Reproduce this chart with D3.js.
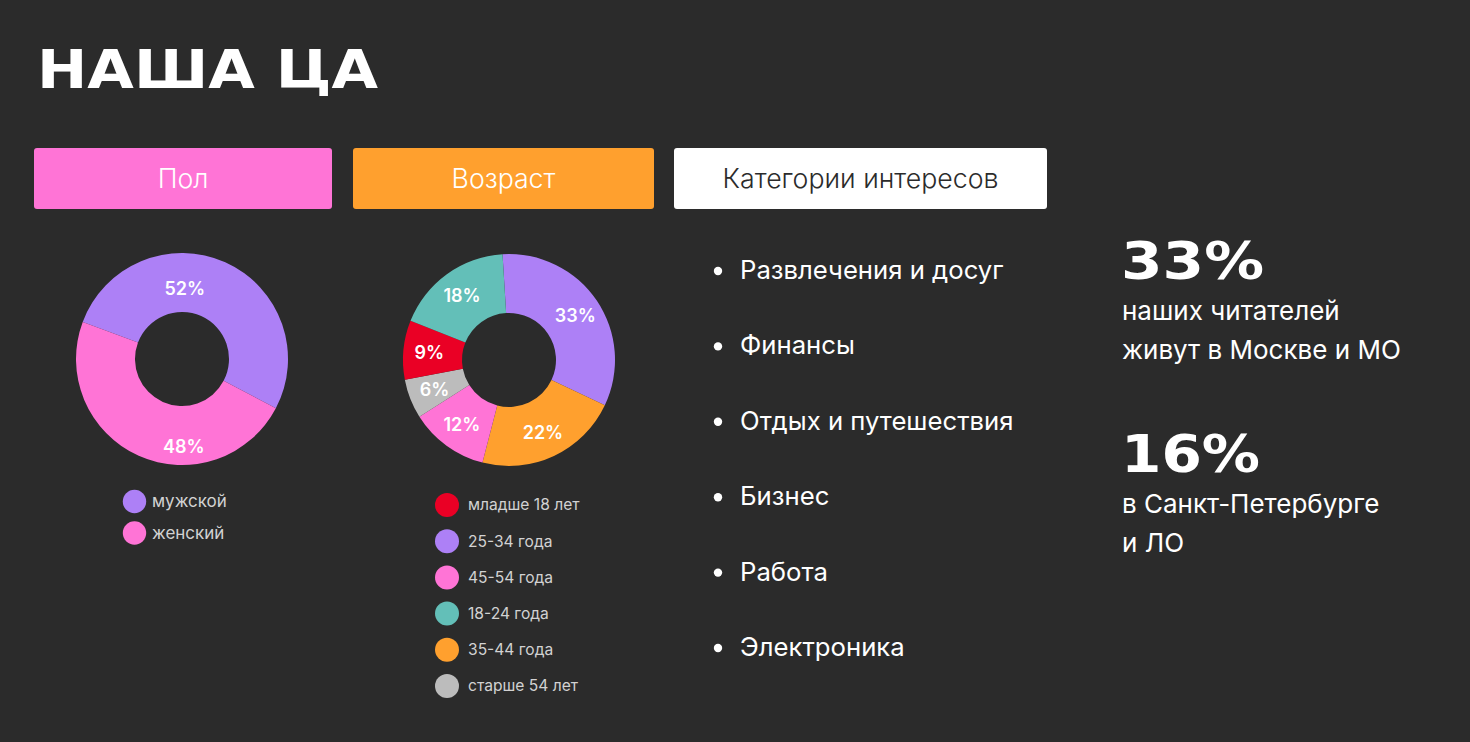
<!DOCTYPE html>
<html>
<head>
<meta charset="utf-8">
<script src="https://cdn.jsdelivr.net/npm/d3@7/dist/d3.min.js"></script>
<style>
  body { margin: 0; background: #2b2b2b; }
  svg { display: block; font-family: Inter, "Noto Sans", sans-serif; }
</style>
</head>
<body>
<svg width="1470" height="742"></svg>
<script>
// data
const genderLabels = ['мужской', 'женский'];
const genderValues = [52, 48];

const ageLabels = ['25-34 года', '35-44 года', '45-54 года', 'старше 54 лет', 'младше 18 лет', '18-24 года'];
const ageValues = [33, 22, 12, 6, 9, 18];
// legend order on the slide
const ageLegend = ['младше 18 лет', '25-34 года', '45-54 года', '18-24 года', '35-44 года', 'старше 54 лет'];

const interests = ['Развлечения и досуг', 'Финансы', 'Отдых и путешествия', 'Бизнес', 'Работа', 'Электроника'];

const headers = ['Пол', 'Возраст', 'Категории интересов'];

const statValues = ['33%', '16%'];
const statTexts = [['наших читателей', 'живут в Москве и МО'], ['в Санкт-Петербурге', 'и ЛО']];

// colours
const colorOf = {
  'мужской': '#ad80f6', 'женский': '#ff74d6',
  'младше 18 лет': '#ea0025', '25-34 года': '#ad80f6', '45-54 года': '#ff74d6',
  '18-24 года': '#63bfb8', '35-44 года': '#ffa02e', 'старше 54 лет': '#bcbcbc'
};
const headerFill = ['#ff74d6', '#ffa02e', '#ffffff'];
const headerText = ['#ffffff', '#ffffff', '#2b2b2b'];

const svg = d3.select('svg');

// title
svg.append('text')
  .attr('x', 37).attr('y', 88)
  .attr('font-family', '"DejaVu Sans", sans-serif')
  .attr('font-weight', 'bold')
  .attr('font-size', 53)
  .attr('textLength', 341).attr('lengthAdjust', 'spacingAndGlyphs')
  .attr('fill', '#fff')
  .text('НАША ЦА');

// header boxes
const boxX = [34, 353, 674];
const boxW = [298, 301, 373];
const hdr = svg.selectAll('.hdr').data(headers).enter().append('g').attr('class', 'hdr');
hdr.append('rect')
  .attr('x', (d, i) => boxX[i]).attr('y', 148)
  .attr('width', (d, i) => boxW[i]).attr('height', 61)
  .attr('rx', 3)
  .attr('fill', (d, i) => headerFill[i]);
hdr.append('text')
  .attr('x', (d, i) => boxX[i] + boxW[i] / 2).attr('y', 188)
  .attr('text-anchor', 'middle')
  .attr('font-size', 26.7).attr('font-weight', 300)
  .attr('fill', (d, i) => headerText[i])
  .text(d => d);

// donut helper
function donut(cx, cy, labels, values, startDeg, labelPos) {
  const g = svg.append('g').attr('transform', `translate(${cx},${cy})`);
  const start = startDeg * Math.PI / 180;
  const pie = d3.pie().sort(null).value(d => d.v)
    .startAngle(start).endAngle(start + 2 * Math.PI);
  const arcs = pie(labels.map((l, i) => ({ l: l, v: values[i] })));
  const arc = d3.arc().innerRadius(47).outerRadius(106);
  const arcL = d3.arc().innerRadius(80).outerRadius(80);
  g.selectAll('path').data(arcs).enter().append('path')
    .attr('d', arc)
    .attr('fill', d => colorOf[d.data.l]);
  g.selectAll('text').data(arcs).enter().append('text')
    .attr('transform', (d, i) => {
      if (labelPos) {
        const p = labelPos[i];
        return `translate(${p.r * Math.sin(p.a)},${-p.r * Math.cos(p.a)})`;
      }
      return `translate(${arcL.centroid(d)})`;
    })
    .attr('text-anchor', 'middle').attr('dy', '0.36em')
    .attr('font-size', 18).attr('font-weight', 600)
    .attr('fill', '#fff')
    .text(d => d.data.v + '%');
}

donut(182, 359, genderLabels, genderValues, -69.5, [{ a: 0.04, r: 71 }, { a: Math.PI - 0.02, r: 88 }]);
donut(509, 360, ageLabels, ageValues, -3.5, null);

// legends
function legend(cx, y0, step, r, tx, size, items) {
  const g = svg.append('g');
  const row = g.selectAll('g').data(items).enter().append('g')
    .attr('transform', (d, i) => `translate(0,${y0 + i * step})`);
  row.append('circle').attr('cx', cx).attr('r', r).attr('fill', d => colorOf[d]);
  row.append('text').attr('x', tx).attr('dy', '0.35em')
    .attr('font-size', size).attr('fill', '#d2d2d2')
    .text(d => d);
}
legend(134.5, 501.5, 31.5, 11.7, 152, 17, genderLabels);
legend(447, 505, 36.2, 12, 468, 15.6, ageLegend);

// interests list
const list = svg.append('g');
const item = list.selectAll('g').data(interests).enter().append('g')
  .attr('transform', (d, i) => `translate(0,${279 + i * 75.4})`);
item.append('circle').attr('cx', 718).attr('cy', -8).attr('r', 4.2).attr('fill', '#fff');
item.append('text').attr('x', 740)
  .attr('font-size', 25.7).attr('fill', '#fff')
  .text(d => d);

// stats on the right
const statY = [279, 472];
const statW = [143, 139];
statValues.forEach((v, i) => {
  svg.append('text')
    .attr('x', 1121).attr('y', statY[i])
    .attr('font-family', '"DejaVu Sans", sans-serif')
    .attr('font-weight', 'bold')
    .attr('font-size', 52)
    .attr('textLength', statW[i]).attr('lengthAdjust', 'spacingAndGlyphs')
    .attr('fill', '#fff')
    .text(v);
  svg.selectAll(null).data(statTexts[i]).enter().append('text')
    .attr('x', 1122).attr('y', (d, j) => statY[i] + 41 + j * 38.5)
    .attr('font-size', 26).attr('fill', '#fff')
    .text(d => d);
});
</script>
</body>
</html>
